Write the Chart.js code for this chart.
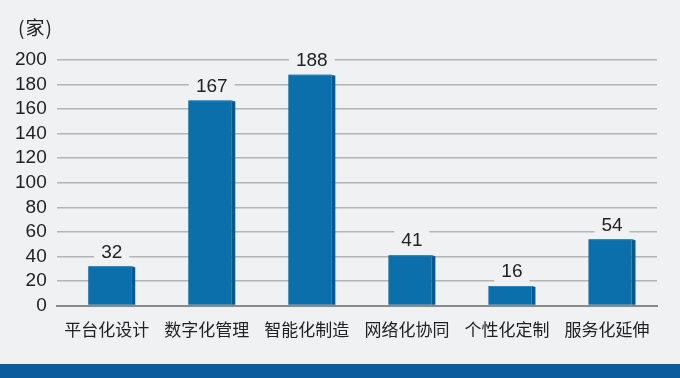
<!DOCTYPE html>
<html>
<head>
<meta charset="utf-8">
<script src="https://cdn.jsdelivr.net/npm/chart.js@4/dist/chart.umd.min.js"></script>
<style>
  html, body { margin: 0; padding: 0; background: #f0f1f3; }
  #wrap { position: relative; width: 680px; height: 364px; }
  #unit { position: absolute; left: 18px; top: 13px; font: 19px "Noto Sans CJK SC", sans-serif; color: #222; letter-spacing: 1px; }
  #band { width: 680px; height: 14px; background: #0a5c9c; }
</style>
</head>
<body>
<div id="wrap">
  <div id="unit">(家)</div>
  <canvas id="chart" width="680" height="364"></canvas>
</div>
<div id="band"></div>
<script>
/*类别与数据*/
var categories = ["平台化设计", "数字化管理", "智能化制造", "网络化协同", "个性化定制", "服务化延伸"];
var values = [32, 167, 188, 41, 16, 54];
var yTicks = [0, 20, 40, 60, 80, 100, 120, 140, 160, 180, 200];

var barColor = "#0b6fab";
var sideColor = "#075a8f";
var topColor = "#2f86bd";
var bgColor = "#f0f1f3";

/*柱子略向右偏*/
var barShift = {
    id: "barShift",
    beforeDatasetsDraw: function(chart) {
        chart.getDatasetMeta(0).data.forEach(function(bar) {
            if (!bar._shifted) { bar.x += 3; bar._shifted = true; }
        });
    }
};

/*立体侧边 + 数值标签*/
var barDeco = {
    id: "barDeco",
    afterDatasetsDraw: function(chart) {
        var ctx = chart.ctx;
        var meta = chart.getDatasetMeta(0);
        var side = 4;
        ctx.save();
        meta.data.forEach(function(bar, i) {
            var w = bar.width;
            var left = bar.x - w / 2;
            var right = bar.x + w / 2;
            var top = bar.y;
            var bottom = bar.base;
            /*右侧*/
            ctx.fillStyle = sideColor;
            ctx.beginPath();
            ctx.moveTo(right, top);
            ctx.lineTo(right + side, top + 1);
            ctx.lineTo(right + side, bottom);
            ctx.lineTo(right, bottom);
            ctx.closePath();
            ctx.fill();
            /*顶面*/
            ctx.fillStyle = topColor;
            ctx.beginPath();
            ctx.moveTo(left, top);
            ctx.lineTo(right, top);
            ctx.lineTo(right + side, top + 1);
            ctx.lineTo(left + side, top + 1);
            ctx.closePath();
            ctx.fill();
            /*数值*/
            var txt = String(values[i]);
            ctx.font = "19px 'Liberation Sans', Arial, sans-serif";
            var tw = ctx.measureText(txt).width;
            var cx = bar.x + 2;
            var ty = top - 14;
            ctx.fillStyle = bgColor;
            ctx.fillRect(cx - tw / 2 - 7, ty - 11, tw + 14, 22);
            ctx.fillStyle = "#222";
            ctx.textAlign = "center";
            ctx.textBaseline = "middle";
            ctx.fillText(txt, cx, ty);
        });
        ctx.restore();
    }
};

var ctx = document.getElementById("chart").getContext("2d");
var myChart = new Chart(ctx, {
    type: "bar",
    data: {
        labels: categories,
        datasets: [{
            data: values,
            backgroundColor: barColor,
            borderWidth: 0,
            barPercentage: 0.86,
            categoryPercentage: 0.5
        }]
    },
    options: {
        responsive: false,
        animation: false,
        events: [],
        layout: { padding: { top: 60, right: 23, left: 5, bottom: 10 } },
        plugins: { legend: { display: false }, tooltip: { enabled: false } },
        scales: {
            x: {
                grid: { display: false, drawTicks: false },
                border: { display: true, color: "#8a8a8a", width: 2 },
                ticks: {
                    color: "#222",
                    padding: 14,
                    font: { size: 17, family: "'Noto Sans CJK SC', sans-serif" }
                }
            },
            y: {
                min: 0,
                max: 200,
                afterBuildTicks: function(axis) {
                    axis.ticks = yTicks.map(function(v) { return { value: v }; });
                },
                grid: { color: "#b4b4b4", lineWidth: 1.5, drawTicks: false },
                border: { display: false },
                ticks: {
                    color: "#222",
                    padding: 10,
                    autoSkip: false,
                    font: { size: 19, family: "'Liberation Sans', Arial, sans-serif" }
                }
            }
        }
    },
    plugins: [barShift, barDeco]
});
</script>
</body>
</html>
